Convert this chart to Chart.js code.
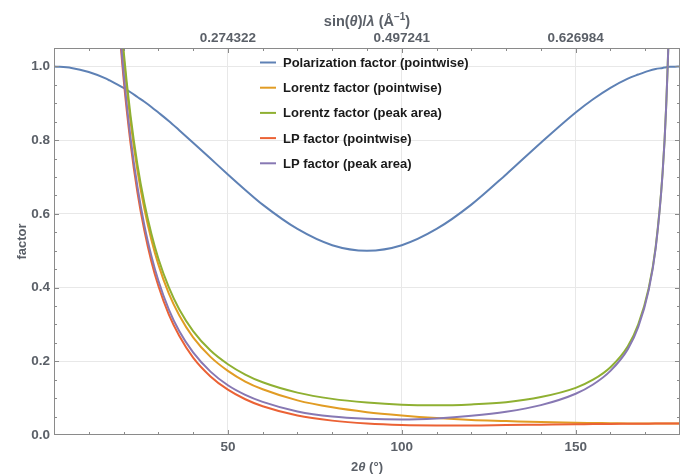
<!DOCTYPE html>
<html>
<head>
<meta charset="utf-8">
<title>LP factor</title>
<script src="https://cdn.jsdelivr.net/npm/chart.js@4.4.1/dist/chart.umd.min.js"></script>
<style>
  html, body { margin: 0; padding: 0; background: #fff; }
</style>
</head>
<body>
<canvas id="lpChart" width="685" height="474"></canvas>
<script>
// 2theta sample positions (degrees)
const twoTheta = [0, 5, 10, 15, 16, 18, 20, 22, 24, 26, 28, 30, 33, 36, 40, 45, 50, 55, 60, 70, 80, 90,
  100, 110, 120, 130, 140, 150, 155, 160, 165, 168, 171, 173, 175, 176, 177, 178, 180];

const polarization = [1.000, 0.996, 0.985, 0.967, 0.962, 0.952, 0.942, 0.930, 0.917, 0.904, 0.890, 0.875,
  0.852, 0.827, 0.793, 0.750, 0.707, 0.665, 0.625, 0.559, 0.515, 0.500, 0.515, 0.559, 0.625, 0.707,
  0.793, 0.875, 0.911, 0.942, 0.967, 0.978, 0.988, 0.993, 0.996, 0.998, 0.999, 0.999, 1.000];

const lorentzPoint = [null, null, null, null, 1.600, 1.267, 1.028, 0.851, 0.717, 0.613, 0.530, 0.463,
  0.384, 0.325, 0.265, 0.212, 0.174, 0.145, 0.124, 0.094, 0.075, 0.062, 0.053, 0.046, 0.041, 0.038,
  0.035, 0.033, 0.0325, 0.032, 0.0315, 0.0313, 0.0312, 0.0311, 0.0311, 0.031, 0.031, 0.031, 0.031];

const lorentzArea = [null, null, null, null, 1.616, 1.283, 1.044, 0.867, 0.733, 0.629, 0.546, 0.479,
  0.401, 0.341, 0.282, 0.229, 0.192, 0.164, 0.143, 0.115, 0.098, 0.088, 0.082, 0.0805, 0.083, 0.089,
  0.103, 0.128, 0.150, 0.184, 0.241, 0.300, 0.398, 0.510, 0.713, 0.888, 1.184, 1.776, null];

const lpPoint = [null, null, null, null, 1.539, 1.207, 0.968, 0.792, 0.658, 0.554, 0.471, 0.405,
  0.327, 0.269, 0.210, 0.159, 0.123, 0.097, 0.078, 0.053, 0.039, 0.031, 0.027, 0.026, 0.026, 0.027,
  0.028, 0.029, 0.0296, 0.0301, 0.0304, 0.0306, 0.0308, 0.0309, 0.031, 0.031, 0.031, 0.031, 0.031];

const lpArea = [null, null, null, null, 1.555, 1.222, 0.983, 0.807, 0.673, 0.568, 0.486, 0.419,
  0.341, 0.282, 0.224, 0.172, 0.135, 0.109, 0.090, 0.064, 0.050, 0.044, 0.042, 0.045, 0.052, 0.063,
  0.081, 0.112, 0.137, 0.174, 0.233, 0.293, 0.393, 0.506, 0.711, 0.886, 1.182, 1.775, null];

const seriesNames = ['Polarization factor (pointwise)', 'Lorentz factor (pointwise)',
  'Lorentz factor (peak area)', 'LP factor (pointwise)', 'LP factor (peak area)'];
const seriesColors = ['#5e81b5', '#e19c24', '#8fb032', '#eb6235', '#8778b3'];

// top axis: sin(theta)/lambda at 2theta = 50, 100, 150
const topTickAt = [50, 100, 150];
const topTickLabels = ['0.274322', '0.497241', '0.626984'];

const FONT = '"Liberation Sans", Arial, sans-serif';
const LABEL_GRAY = '#5b6068';
const FRAME_GRAY = '#8a8a8a';
const GRID_GRAY = '#e8e8e8';
const TICK_FONT = { family: FONT, size: 13.5, weight: 'bold' };

const allSeries = [polarization, lorentzPoint, lorentzArea, lpPoint, lpArea];

const datasets = allSeries.map((vals, i) => ({
  label: seriesNames[i],
  data: twoTheta.map((t, j) => ({ x: t, y: vals[j] })),
  borderColor: seriesColors[i],
  backgroundColor: seriesColors[i],
  borderWidth: 2,
  pointRadius: 0,
  fill: false,
  spanGaps: false,
  cubicInterpolationMode: 'monotone',
  order: allSeries.length - i
}));

const isMajorY = v => Math.abs(v * 5 - Math.round(v * 5)) < 1e-6;

// draws a line of text built from runs with different fonts, centred on cx
function drawRuns(ctx, runs, cx, y) {
  let w = 0;
  runs.forEach(r => { ctx.font = r.font; w += ctx.measureText(r.text).width; });
  let x = cx - w / 2;
  runs.forEach(r => {
    ctx.font = r.font;
    ctx.fillText(r.text, x, y + (r.dy || 0));
    x += ctx.measureText(r.text).width;
  });
}

const frameAndText = {
  id: 'frameAndText',
  afterDatasetsDraw(chart) {
    const { ctx, chartArea: a, scales } = chart;
    ctx.save();
    ctx.strokeStyle = FRAME_GRAY;
    ctx.lineWidth = 1;
    ctx.strokeRect(a.left + 0.5, a.top + 0.5, a.right - a.left - 1, a.bottom - a.top - 1);

    // inward ticks on all four sides
    ctx.beginPath();
    scales.x.ticks.forEach(t => {
      if (t.value <= 0 || t.value >= 180) return;
      const px = Math.round(scales.x.getPixelForValue(t.value)) + 0.5;
      const len = t.value % 50 === 0 ? 5 : 3;
      ctx.moveTo(px, a.bottom); ctx.lineTo(px, a.bottom - len);
      ctx.moveTo(px, a.top); ctx.lineTo(px, a.top + len);
    });
    scales.y.ticks.forEach(t => {
      if (t.value <= 0 || t.value >= 1.05) return;
      const py = Math.round(scales.y.getPixelForValue(t.value)) + 0.5;
      const len = isMajorY(t.value) ? 5 : 3;
      ctx.moveTo(a.left, py); ctx.lineTo(a.left + len, py);
      ctx.moveTo(a.right, py); ctx.lineTo(a.right - len, py);
    });
    ctx.stroke();
    ctx.restore();
  },
  afterDraw(chart) {
    const { ctx, chartArea: a } = chart;
    const cx = (a.left + a.right) / 2;
    const bold = `bold 13px ${FONT}`;
    const boldIt = `italic bold 13px ${FONT}`;
    const big = `bold 14.5px ${FONT}`;
    const bigIt = `italic bold 14.5px ${FONT}`;
    ctx.save();
    ctx.fillStyle = LABEL_GRAY;
    ctx.textBaseline = 'alphabetic';

    // top axis title
    drawRuns(ctx, [
      { text: 'sin(', font: big },
      { text: 'θ', font: bigIt },
      { text: ')/', font: big },
      { text: 'λ', font: bigIt },
      { text: ' (Å', font: big },
      { text: '−1', font: `bold 10px ${FONT}`, dy: -6 },
      { text: ')', font: big }
    ], cx, 26);

    // bottom axis title
    drawRuns(ctx, [
      { text: '2', font: bold },
      { text: 'θ', font: boldIt },
      { text: ' (°)', font: bold }
    ], cx, 471);

    // left axis title
    ctx.translate(22, (a.top + a.bottom) / 2);
    ctx.rotate(-Math.PI / 2);
    ctx.textAlign = 'center';
    ctx.textBaseline = 'middle';
    ctx.font = bold;
    ctx.fillText('factor', 0, 0);
    ctx.restore();

    // legend inside the plot area
    ctx.save();
    ctx.font = bold;
    ctx.textBaseline = 'middle';
    chart.data.datasets.forEach((ds, i) => {
      const y = 62.5 + i * 25.2;
      ctx.strokeStyle = ds.borderColor;
      ctx.lineWidth = 2;
      ctx.beginPath();
      ctx.moveTo(260, y);
      ctx.lineTo(276, y);
      ctx.stroke();
      ctx.fillStyle = '#1a1a1a';
      ctx.fillText(ds.label, 283, y + 1);
    });
    ctx.restore();
  }
};

new Chart(document.getElementById('lpChart'), {
  type: 'line',
  data: { datasets: datasets },
  options: {
    responsive: false,
    animation: false,
    devicePixelRatio: 1,
    layout: { padding: { left: 0, right: 5, top: 0, bottom: 0 } },
    plugins: {
      legend: { display: false },
      tooltip: { enabled: false }
    },
    scales: {
      x: {
        type: 'linear',
        position: 'bottom',
        min: 0,
        max: 180,
        border: { display: false },
        grid: {
          drawTicks: false,
          color: c => (c.tick && c.tick.value > 0 && c.tick.value < 180 && c.tick.value % 50 === 0) ? GRID_GRAY : 'transparent'
        },
        ticks: {
          stepSize: 10,
          autoSkip: false,
          maxRotation: 0,
          padding: 4,
          color: LABEL_GRAY,
          font: TICK_FONT,
          callback: v => (v > 0 && v < 180 && v % 50 === 0) ? String(v) : ''
        },
        afterFit: s => { s.height = 39; }
      },
      x2: {
        type: 'linear',
        position: 'top',
        min: 0,
        max: 180,
        border: { display: false },
        grid: { display: false, drawTicks: false },
        ticks: {
          stepSize: 10,
          autoSkip: false,
          maxRotation: 0,
          padding: 2,
          color: LABEL_GRAY,
          font: TICK_FONT,
          callback: v => {
            const k = topTickAt.indexOf(v);
            return k >= 0 ? topTickLabels[k] : '';
          }
        },
        afterFit: s => { s.height = 48; }
      },
      y: {
        min: 0,
        max: 1.05,
        border: { display: false },
        grid: {
          drawTicks: false,
          color: c => (c.tick && c.tick.value > 0.01 && c.tick.value < 1.04 && isMajorY(c.tick.value)) ? GRID_GRAY : 'transparent'
        },
        ticks: {
          stepSize: 0.05,
          autoSkip: false,
          padding: 4,
          color: LABEL_GRAY,
          font: TICK_FONT,
          callback: v => (isMajorY(v) && v < 1.04) ? v.toFixed(1) : ''
        },
        afterFit: s => { s.width = 54; }
      }
    }
  },
  plugins: [frameAndText]
});
</script>
</body>
</html>
